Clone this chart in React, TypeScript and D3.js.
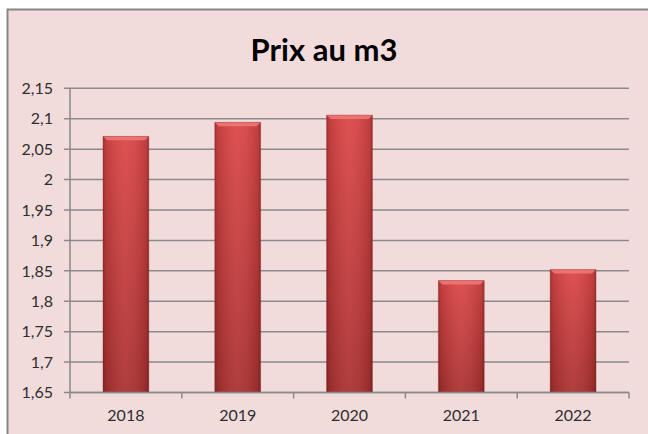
import React from "react";
import * as d3 from "d3";

// Prix au m3 - bar chart, excel style
const years = ["2018", "2019", "2020", "2021", "2022"];
const prices = [2.071, 2.094, 2.106, 1.834, 1.852];
const yTicks = [1.65, 1.7, 1.75, 1.8, 1.85, 1.9, 1.95, 2, 2.05, 2.1, 2.15];

const width = 648;
const height = 434;
const margin = { top: 88.3, right: 19, bottom: 41.5, left: 70 };

const fr = d3.formatLocale({ decimal: ",", thousands: " ", grouping: [3], currency: ["", "€"] });
const fmt = fr.format("~g");

const App = () => {
  const x = d3
    .scaleBand<string>()
    .domain(years)
    .range([margin.left, width - margin.right])
    .paddingInner(0.59)
    .paddingOuter(0.295);

  const y = d3
    .scaleLinear()
    .domain([1.65, 2.15])
    .range([height - margin.bottom, margin.top]);

  const step = x.step();
  const bw = x.bandwidth();
  const y0 = y(1.65);
  const font = "Lato, 'Open Sans', sans-serif";

  return (
    <svg
      width={width}
      height={height}
      style={{ position: "absolute", left: 0, top: 0, display: "block" }}
    >
      <defs>
        <linearGradient id="barH" x1="0" x2="1" y1="0" y2="0">
          <stop offset="0" stopColor="#000" stopOpacity="0.28" />
          <stop offset="0.06" stopColor="#000" stopOpacity="0.12" />
          <stop offset="0.5" stopColor="#fff" stopOpacity="0.06" />
          <stop offset="0.94" stopColor="#000" stopOpacity="0.12" />
          <stop offset="1" stopColor="#000" stopOpacity="0.3" />
        </linearGradient>
        <linearGradient id="barV" x1="0" x2="0" y1="0" y2="1">
          <stop offset="0" stopColor="#dc4646" />
          <stop offset="1" stopColor="#ab3131" />
        </linearGradient>
      </defs>

      {/* chart area */}
      <rect x={7.5} y={9.5} width={700} height={500} fill="#f2dcdb" stroke="#868686" strokeWidth={2} />

      <text
        x={324}
        y={61}
        textAnchor="middle"
        fontFamily={font}
        fontWeight="bold"
        fontSize={31}
        fill="#000"
      >
        Prix au m3
      </text>

      {/* grid */}
      {yTicks.map((t) => (
        <g key={t}>
          <line
            x1={margin.left - 6}
            x2={width - margin.right}
            y1={y(t)}
            y2={y(t)}
            stroke="#8a8a8a"
            strokeWidth={1.5}
          />
          <text
            x={margin.left - 17}
            y={y(t)}
            dy="0.36em"
            textAnchor="end"
            fontFamily={font}
            fontSize={16}
            fill="#2e2e2e"
          >
            {fmt(t)}
          </text>
        </g>
      ))}

      {/* bars */}
      {years.map((yr, i) => {
        const bx = x(yr)!;
        const top = y(prices[i]);
        const bev = 4;
        return (
          <g key={yr}>
            <rect x={bx} y={top} width={bw} height={y0 - top} fill="url(#barV)" />
            <rect x={bx} y={top} width={bw} height={y0 - top} fill="url(#barH)" />
            <polygon
              points={`${bx},${top} ${bx + bw},${top} ${bx + bw - bev},${top + bev} ${bx + bev},${top + bev}`}
              fill="#f07a7a"
              opacity={0.85}
            />
            <rect
              x={bx}
              y={top}
              width={bw}
              height={y0 - top}
              fill="none"
              stroke="#8a2a2a"
              strokeOpacity={0.35}
              strokeWidth={1}
            />
          </g>
        );
      })}

      {/* axes */}
      <line x1={margin.left} x2={margin.left} y1={margin.top} y2={y0} stroke="#8a8a8a" strokeWidth={1.5} />
      <line
        x1={margin.left}
        x2={width - margin.right}
        y1={y0}
        y2={y0}
        stroke="#8a8a8a"
        strokeWidth={1.5}
      />
      {d3.range(years.length + 1).map((k) => {
        const tx = margin.left + k * step;
        return <line key={k} x1={tx} x2={tx} y1={y0} y2={y0 + 6} stroke="#8a8a8a" strokeWidth={1.5} />;
      })}
      {years.map((yr) => (
        <text
          key={yr}
          x={x(yr)! + bw / 2}
          y={421}
          textAnchor="middle"
          fontFamily={font}
          fontSize={16}
          fill="#2e2e2e"
        >
          {yr}
        </text>
      ))}
    </svg>
  );
};

export default App;
